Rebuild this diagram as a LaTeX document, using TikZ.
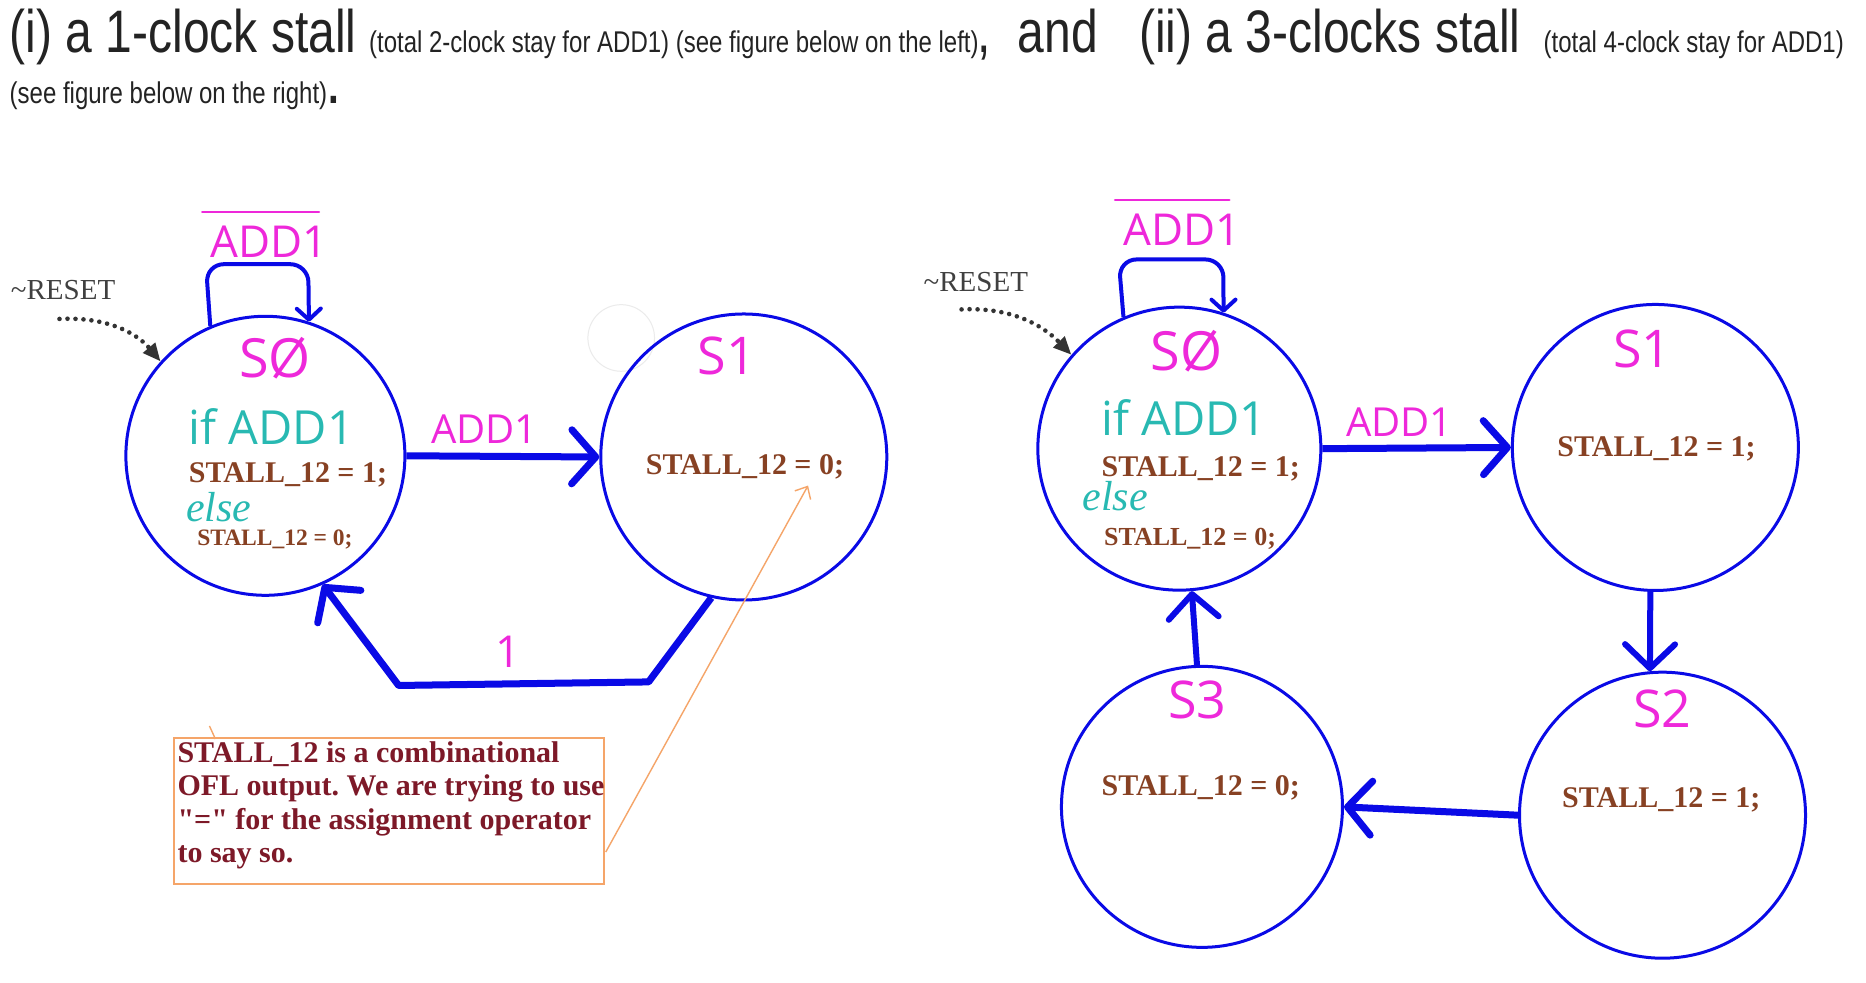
\documentclass[tikz,border=0pt]{standalone}
\usepackage{fontspec}
\setmainfont{Liberation Serif}
\newfontfamily\notefont{Liberation Serif}
\newfontfamily\hdrfont[FakeStretch=0.8]{Liberation Sans}
\newfontfamily\handfont{Open Sans}
\usetikzlibrary{arrows.meta}
\definecolor{cblue}{RGB}{10,10,230}
\definecolor{hmag}{RGB}{238,40,218}
\definecolor{hteal}{RGB}{40,185,178}
\definecolor{sbrown}{RGB}{135,65,35}
\definecolor{nred}{RGB}{125,25,40}
\definecolor{norange}{RGB}{245,165,105}
\definecolor{htext}{RGB}{35,35,35}
\frenchspacing
\begin{document}
\begin{tikzpicture}[x=1.19pt,y=-1.19pt,
  fsmstate/.style={circle,draw=cblue,line width=3pt,minimum size=#1,inner sep=0pt},
  bigarrow/.style={draw=cblue,line width=7pt,line join=round,-{Straight Barb[length=24pt,width=54pt,round]}},
  midarrow/.style={draw=cblue,line width=6pt,-{Straight Barb[length=24pt,width=50pt,round]}},
  looparrow/.style={draw=cblue,line width=4pt,rounded corners=18pt,-{Straight Barb[length=11pt,width=24pt,round]}},
  resetarrow/.style={draw=black!80,line width=4.6pt,line cap=round,dash pattern=on 0pt off 8pt,-{Triangle[length=18pt,width=15pt]}},
  notearrow/.style={draw=norange,line width=1.4pt,-{Straight Barb[length=10pt,width=18pt]}},
  hand/.style={text=hmag,inner sep=0pt,font=\handfont\fontsize{#1}{#1}\selectfont},
  handteal/.style={text=hteal,inner sep=0pt,font=\handfont\fontsize{#1}{#1}\selectfont},
  elsetext/.style={text=hteal,inner sep=0pt,font=\itshape\fontsize{42}{42}\selectfont},
  stall/.style={text=sbrown,inner sep=0pt,font=\bfseries\fontsize{#1}{#1}\selectfont},
  resettext/.style={text=black!75,inner sep=0pt,font=\fontsize{29}{29}\selectfont},
  hdrbig/.style={anchor=base west,inner sep=0pt,text=htext,font=\hdrfont\fontsize{60}{60}\selectfont},
  hdrsmall/.style={anchor=base west,inner sep=0pt,text=htext,font=\hdrfont\fontsize{30}{30}\selectfont},
  notebox/.style={draw=norange,line width=2pt,inner sep=0pt},
  notetext/.style={text=nred,inner sep=0pt,anchor=north west,align=left,font=\notefont\bfseries\fontsize{30}{33.3}\selectfont},
  overbar/.style={draw=hmag,line width=2.6pt,line cap=round},
]
\useasboundingbox[fill=white] (0,0) rectangle (1568,826);

% header
\node[hdrbig] (h1) at (8,44) {(i) a 1-clock stall};
\node[hdrsmall] (h2) at (310,44) {(total 2-clock stay for ADD1) (see figure below on the left)};
\node[hdrbig] (h3) at (821,44) {,};
\node[hdrbig] (h4) at (855,44) {and};
\node[hdrbig] (h5) at (957,44) {(ii) a 3-clocks stall};
\node[hdrsmall] (h6) at (1297,44) {(total 4-clock stay for ADD1)};
\node[hdrsmall] (h7) at (8,87) {(see figure below on the right)};
\node[anchor=base west,inner sep=0pt,text=htext,font=\hdrfont\bfseries\fontsize{48}{48}\selectfont] (h8) at (276,87) {.};

% faint artifact circle
\draw[black!8,line width=1pt] (522,284) circle[radius=28];

% ---------- left diagram ----------
\node[fsmstate=279pt] (s0L) at (223,383) {};
\node[fsmstate=286pt] (s1L) at (625,384) {};

\node[hand=54] (s0Lname) at (231,301) {SØ};
\node[handteal=47] (s0Lif) at (228,358) {if ADD1};
\node[stall=30] (s0Lst1) at (242,399) {STALL\_12 = 1;};
\node[elsetext] (s0Lelse) at (184,426) {else};
\node[stall=23.5] (s0Lst0) at (231,453) {STALL\_12 = 0;};

\node[hand=52] (s1Lname) at (611,299) {S1};
\node[stall=30] (s1Lst) at (626,392) {STALL\_12 = 0;};

% self loop
\draw[looparrow] (s0L.113) -- (173,222) -- (259,222) -- (s0L.72);
\node[hand=44] (loopLlab) at (226,203) {ADD1};
\draw[overbar] (170,178) -- (268,178);

% reset
\node[resettext] (resetL) at (53,244) {\textasciitilde RESET};
\coordinate (rstL) at (50,268);
\draw[resetarrow] (rstL) .. controls (90,266) and (115,280) .. (s0L.138);

% transitions
\draw[bigarrow] (s0L.east) -- (s1L.west);
\node[hand=40] (addLlab) at (407,361) {ADD1};
\draw[bigarrow] (s1L.257) -- (545,573) -- (335,576) -- (s0L.294);
\node[hand=44] (oneLlab) at (427,548) {1};

% note
\node[notebox,minimum width=430pt,minimum height=146pt] (note) at (326.5,681.5) {};
\node[notetext] (notetxt) at (149,623) {STALL\_12 is a combinational\\OFL output. We are trying to use\\"=" for the assignment operator\\to say so.};
\coordinate (nstart) at (509,716);
\coordinate (nend) at (679,408);
\draw[notearrow] (nstart) -- (nend);
\draw[draw=norange,line width=1.4pt] (176,610) -- (181,621);

% ---------- right diagram ----------
\node[fsmstate=283pt] (s0R) at (991,377) {};
\node[fsmstate=286pt] (s1R) at (1391,376) {};
\node[fsmstate=286pt] (s2R) at (1397,685) {};
\node[fsmstate=281pt] (s3R) at (1010,678) {};

\node[hand=54] (s0Rname) at (997,295) {SØ};
\node[handteal=47] (s0Rif) at (995,351) {if ADD1};
\node[stall=30] (s0Rst1) at (1009,394) {STALL\_12 = 1;};
\node[elsetext] (s0Relse) at (937,417) {else};
\node[stall=26] (s0Rst0) at (1000,453) {STALL\_12 = 0;};

\node[hand=52] (s1Rname) at (1380,293) {S1};
\node[stall=30] (s1Rst) at (1392,377) {STALL\_12 = 1;};
\node[hand=52] (s2Rname) at (1397,596) {S2};
\node[stall=30] (s2Rst) at (1396,672) {STALL\_12 = 1;};
\node[hand=52] (s3Rname) at (1006,588) {S3};
\node[stall=30] (s3Rst) at (1009,662) {STALL\_12 = 0;};

\draw[looparrow] (s0R.113) -- (940,218) -- (1028,218) -- (s0R.72);
\node[hand=44] (loopRlab) at (993,193) {ADD1};
\draw[overbar] (937,168) -- (1033,168);

\node[resettext] (resetR) at (820,237) {\textasciitilde RESET};
\coordinate (rstR) at (808,260);
\draw[resetarrow] (rstR) .. controls (848,258) and (875,272) .. (s0R.139);

\draw[bigarrow] (s0R.east) -- (s1R.west);
\node[hand=40] (addRlab) at (1176,355) {ADD1};
\draw[midarrow] (s1R.-92) -- (s2R.95);
\draw[bigarrow] (s2R.west) -- (s3R.east);
\draw[midarrow] (s3R.92) -- (s0R.-85);
\end{tikzpicture}
\end{document}
